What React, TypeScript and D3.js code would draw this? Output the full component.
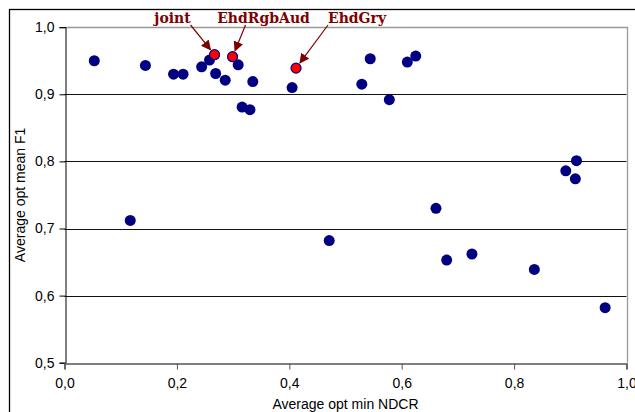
import React, { useEffect, useRef } from "react";
import * as d3 from "d3";

// blue points: average opt min NDCR / average opt mean F1
const ndcr = [0.053, 0.144, 0.194, 0.211, 0.244, 0.258, 0.269, 0.286, 0.309, 0.335, 0.316, 0.330, 0.405,
  0.529, 0.544, 0.578, 0.610, 0.625, 0.117, 0.471, 0.661, 0.680, 0.725, 0.836, 0.892, 0.911, 0.909, 0.962];
const f1 = [0.950, 0.943, 0.930, 0.930, 0.941, 0.951, 0.931, 0.921, 0.944, 0.919, 0.881, 0.877, 0.910,
  0.915, 0.953, 0.892, 0.948, 0.957, 0.712, 0.682, 0.730, 0.653, 0.662, 0.639, 0.786, 0.801, 0.774, 0.582];

// highlighted runs
const hlNames = ["joint", "EhdRgbAud", "EhdGry"];
const hlNdcr = [0.267, 0.299, 0.412];
const hlF1 = [0.959, 0.956, 0.939];

const xTicks = [0, 0.2, 0.4, 0.6, 0.8, 1.0];
const yTicks = [0.5, 0.6, 0.7, 0.8, 0.9, 1.0];

// label placement relative to the point (pixels)
const labelDx = [-42, 31, 61];
const arrowFromDx = [-24, 13, 32];

const W = 635;
const H = 412;

export default function App() {
  const ref = useRef<SVGSVGElement>(null);

  useEffect(() => {
    const svg = d3.select(ref.current);
    svg.selectAll("*").remove();

    const x = d3.scaleLinear().domain([0, 1]).range([64.5, 626.5]);
    const y = d3.scaleLinear().domain([0.5, 1]).range([362.7, 27.2]);

    const defs = svg.append("defs");
    defs.append("marker")
      .attr("id", "arr")
      .attr("viewBox", "0 0 10 10")
      .attr("refX", 9)
      .attr("refY", 5)
      .attr("markerWidth", 10)
      .attr("markerHeight", 10)
      .attr("markerUnits", "userSpaceOnUse")
      .attr("orient", "auto")
      .append("path")
      .attr("d", "M0,0 L10,5 L0,10 z")
      .attr("fill", "#800000");

    // chart area frame
    svg.append("rect")
      .attr("x", 9.5).attr("y", 9.5)
      .attr("width", W + 10).attr("height", H + 10)
      .attr("fill", "none").attr("stroke", "#000").attr("stroke-width", 1.3);

    // gridlines
    svg.append("g").selectAll("line")
      .data([0.6, 0.7, 0.8, 0.9])
      .enter().append("line")
      .attr("x1", x(0)).attr("x2", x(1))
      .attr("y1", d => Math.round(y(d)) + 0.5).attr("y2", d => Math.round(y(d)) + 0.5)
      .attr("stroke", "#111");

    // plot area border top/right
    svg.append("path")
      .attr("d", `M${x(0)},${Math.round(y(1)) + 0.5} H${Math.round(x(1)) + 0.5} V${y(0.5)}`)
      .attr("fill", "none").attr("stroke", "#999").attr("stroke-width", 1.3);

    // y axis
    const yAxis = d3.axisLeft(y).tickValues(yTicks).tickSize(6).tickPadding(5)
      .tickFormat(d => d3.format(".1f")(d as number).replace(".", ","));
    const gy = svg.append("g")
      .attr("transform", `translate(${Math.round(x(0)) + 0.5},0)`)
      .call(yAxis);
    gy.select(".domain").attr("stroke", "#000");
    gy.selectAll("text").attr("font-family", "Liberation Sans, Arial, sans-serif").attr("font-size", 14).attr("fill", "#000");

    // x axis
    const xAxis = d3.axisBottom(x).tickValues(xTicks).tickSize(6).tickPadding(9)
      .tickFormat(d => d3.format(".1f")(d as number).replace(".", ","));
    const gx = svg.append("g")
      .attr("transform", `translate(0,${Math.round(y(0.5)) + 0.5})`)
      .call(xAxis);
    gx.select(".domain").attr("stroke", "#555").attr("stroke-width", 1.5);
    gx.selectAll(".tick line").attr("stroke", "#555");
    gx.selectAll("text").attr("font-family", "Liberation Sans, Arial, sans-serif").attr("font-size", 14).attr("fill", "#000");

    // axis titles
    svg.append("text")
      .attr("x", (x(0) + x(1)) / 2).attr("y", 409)
      .attr("text-anchor", "middle")
      .attr("font-family", "Liberation Sans, Arial, sans-serif").attr("font-size", 14)
      .text("Average opt min NDCR");
    svg.append("text")
      .attr("transform", `translate(25,${(y(0.5) + y(1)) / 2}) rotate(-90)`)
      .attr("text-anchor", "middle")
      .attr("font-family", "Liberation Sans, Arial, sans-serif").attr("font-size", 14)
      .text("Average opt mean F1");

    // blue points
    svg.append("g").selectAll("circle")
      .data(ndcr.map((v, i) => ({ x: v, y: f1[i] })))
      .enter().append("circle")
      .attr("cx", d => x(d.x)).attr("cy", d => y(d.y))
      .attr("r", 5.5)
      .attr("fill", "#000080");

    // highlighted points
    const hl = hlNames.map((n, i) => ({ name: n, x: hlNdcr[i], y: hlF1[i], i }));
    svg.append("g").selectAll("circle")
      .data(hl)
      .enter().append("circle")
      .attr("cx", d => x(d.x)).attr("cy", d => y(d.y))
      .attr("r", 5)
      .attr("fill", "#ff0000").attr("stroke", "#000080").attr("stroke-width", 1.2);

    // annotations
    const ann = svg.append("g");
    ann.selectAll("line")
      .data(hl)
      .enter().append("line")
      .attr("x1", d => x(d.x) + arrowFromDx[d.i]).attr("y1", 25)
      .attr("x2", d => {
        const sx = x(d.x) + arrowFromDx[d.i], sy = 25, ex = x(d.x), ey = y(d.y);
        const len = Math.hypot(ex - sx, ey - sy);
        return ex - (ex - sx) / len * 6.5;
      })
      .attr("y2", d => {
        const sx = x(d.x) + arrowFromDx[d.i], sy = 25, ex = x(d.x), ey = y(d.y);
        const len = Math.hypot(ex - sx, ey - sy);
        return ey - (ey - sy) / len * 6.5;
      })
      .attr("stroke", "#800000").attr("stroke-width", 1.2)
      .attr("marker-end", "url(#arr)");
    ann.selectAll("text")
      .data(hl)
      .enter().append("text")
      .attr("x", d => x(d.x) + labelDx[d.i]).attr("y", 22.5)
      .attr("text-anchor", "middle")
      .attr("font-family", "DejaVu Serif, serif").attr("font-weight", "bold").attr("font-size", 14)
      .attr("fill", "#800000")
      .text(d => d.name);
  }, []);

  return (
    <svg ref={ref} width={W} height={H}
      style={{ position: "absolute", left: 0, top: 0, background: "#fff" }} />
  );
}
